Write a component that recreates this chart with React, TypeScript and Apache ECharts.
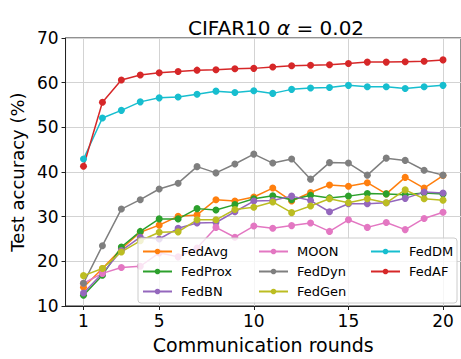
import React, { useEffect, useRef } from "react";
import * as echarts from "echarts";

const rounds = [1, 2, 3, 4, 5, 6, 7, 8, 9, 10, 11, 12, 13, 14, 15, 16, 17, 18, 19, 20];
const xTicks = [1, 5, 10, 15, 20];

const fedAvg = [14.2, 18.4, 22.8, 26.5, 28.1, 30.1, 30.4, 33.8, 33.5, 34.4, 36.4, 33.5, 35.4, 37.1, 36.8, 37.6, 35.1, 38.8, 36.4, 39.2];
const fedProx = [12.4, 16.9, 23.2, 26.7, 29.5, 29.5, 31.8, 31.5, 32.7, 34.0, 34.7, 33.8, 34.8, 34.2, 34.6, 35.2, 35.1, 34.9, 35.3, 35.1];
const fedBN = [12.9, 17.3, 22.4, 25.4, 25.0, 27.4, 28.6, 28.7, 31.1, 33.5, 33.6, 34.6, 33.6, 31.1, 32.9, 32.9, 33.1, 34.1, 35.5, 35.3];
const moon = [15.1, 17.3, 18.6, 18.9, 21.9, 21.0, 23.0, 27.6, 25.4, 27.9, 27.4, 28.0, 28.6, 26.7, 29.3, 27.6, 28.7, 27.1, 29.6, 31.0];
const fedDyn = [15.1, 23.5, 31.7, 33.8, 36.2, 37.5, 41.2, 39.8, 41.8, 44.0, 42.0, 42.9, 38.4, 42.1, 42.0, 39.3, 43.1, 42.6, 40.4, 39.3];
const fedGen = [16.8, 18.4, 22.1, 24.6, 26.5, 26.6, 29.3, 29.3, 31.6, 32.1, 33.3, 30.9, 32.4, 34.0, 33.1, 34.0, 33.1, 36.0, 34.0, 33.7];
const fedDM = [42.9, 52.1, 53.8, 55.7, 56.6, 56.8, 57.4, 58.1, 57.8, 58.2, 57.6, 58.5, 58.8, 58.9, 59.4, 59.1, 59.1, 58.7, 59.1, 59.4];
const fedAF = [41.3, 55.6, 60.6, 61.7, 62.2, 62.5, 62.8, 62.9, 63.1, 63.2, 63.5, 63.8, 63.9, 64.0, 64.3, 64.6, 64.6, 64.7, 64.8, 65.1];

const seriesNames = ["FedAvg", "FedProx", "FedBN", "MOON", "FedDyn", "FedGen", "FedDM", "FedAF"];
const seriesValues = [fedAvg, fedProx, fedBN, moon, fedDyn, fedGen, fedDM, fedAF];
const seriesColors = ["#ff7f0e", "#2ca02c", "#9467bd", "#e377c2", "#7f7f7f", "#bcbd22", "#17becf", "#d62728"];
const legendColumns = [
  ["FedAvg", "FedProx", "FedBN"],
  ["MOON", "FedDyn", "FedGen"],
  ["FedDM", "FedAF"],
];

const FONT = "DejaVu Sans";

export default function App() {
  const ref = useRef<HTMLDivElement>(null);
  useEffect(() => {
    document.body.style.margin = "0";
    if (!ref.current) return;
    const chart = echarts.init(ref.current, undefined, { renderer: "svg" });
    const legendLefts = [142, 258, 370];
    chart.setOption({
      animation: false,
      backgroundColor: "#ffffff",
      title: {
        text: "{n|CIFAR10 }{a|α}{n| = 0.02}",
        left: 183,
        top: 13,
        textStyle: {
          fontWeight: "normal",
          rich: {
            n: { fontFamily: FONT, fontSize: 20, fontWeight: "normal", color: "#000" },
            a: { fontFamily: FONT, fontSize: 20, fontWeight: "normal", fontStyle: "italic", color: "#000" },
          },
        },
      },
      grid: {
        left: 62,
        top: 38,
        width: 400,
        height: 272,
        show: true,
        borderColor: "#222",
        borderWidth: 1,
        backgroundColor: "transparent",
      },
      xAxis: {
        type: "value",
        min: 0.05,
        max: 20.95,
        name: "Communication rounds",
        nameLocation: "middle",
        nameGap: 29,
        nameTextStyle: { fontFamily: FONT, fontSize: 19, color: "#000" },
        axisLine: { show: true, onZero: false, lineStyle: { color: "#222", width: 1 } },
        axisTick: { show: true, customValues: xTicks, length: 4, lineStyle: { color: "#222" } },
        axisLabel: { customValues: xTicks, margin: 6, fontFamily: FONT, fontSize: 17, color: "#000" },
        splitLine: { show: true, lineStyle: { color: "#d3d3d3", width: 1 } },
      },
      yAxis: {
        type: "value",
        min: 10,
        max: 70,
        interval: 10,
        name: "Test accuracy (%)",
        nameLocation: "middle",
        nameGap: 34,
        nameRotate: 90,
        nameTextStyle: { fontFamily: FONT, fontSize: 18, color: "#000" },
        axisLine: { show: true, lineStyle: { color: "#222", width: 1 } },
        axisTick: { show: true, length: 4, lineStyle: { color: "#222" } },
        axisLabel: { margin: 7, fontFamily: FONT, fontSize: 17, color: "#000" },
        splitLine: { show: true, lineStyle: { color: "#d3d3d3", width: 1 } },
      },
      legend: legendColumns.map((col, i) => ({
        data: col,
        orient: "vertical",
        left: legendLefts[i],
        top: 245,
        padding: 0,
        itemWidth: 29,
        itemHeight: 7,
        itemGap: 7,
        z: 5,
        textStyle: { fontFamily: FONT, fontSize: 13, color: "#000", padding: [0, 0, 0, 4] },
      })),
      graphic: [
        {
          type: "rect",
          z: 4,
          shape: { x: 138, y: 238, width: 319, height: 65, r: 3 },
          style: { fill: "rgba(255,255,255,0.8)", stroke: "#cccccc", lineWidth: 1 },
          silent: true,
        },
      ],
      series: seriesNames.map((name, i) => ({
        name,
        type: "line",
        data: rounds.map((r, j) => [r, seriesValues[i][j]]),
        symbol: "circle",
        symbolSize: 7,
        showSymbol: true,
        color: seriesColors[i],
        lineStyle: { width: 1.5, color: seriesColors[i] },
        itemStyle: { color: seriesColors[i] },
        z: 2,
      })),
    });
    return () => chart.dispose();
  }, []);
  return <div ref={ref} style={{ width: 461, height: 359 }} />;
}
